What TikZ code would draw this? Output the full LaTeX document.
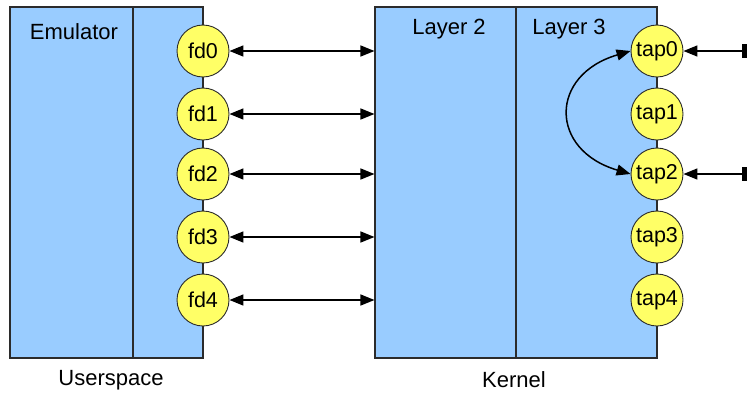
\documentclass[tikz,border=0pt]{standalone}
\usepackage{fontspec}
\setmainfont{Liberation Sans}
\usetikzlibrary{arrows.meta}
\definecolor{boxblue}{HTML}{99CCFF}
\definecolor{circyellow}{HTML}{FFFF66}
\definecolor{edge}{HTML}{2B2B2B}
\tikzset{
  panel/.style={draw=edge, line width=1.1pt, fill=boxblue, inner sep=0pt, minimum height=351pt},
  port/.style={circle, draw=edge, line width=0.9pt, fill=circyellow, minimum size=52pt, inner sep=0pt, font=\fontsize{21.5}{23}\selectfont},
  lbl/.style={font=\fontsize{22}{24}\selectfont, inner sep=0pt},
  link/.style={line width=1.5pt, {Triangle[length=14pt,width=11pt]}-{Triangle[length=14pt,width=11pt]}},
  ext/.style={line width=1.5pt, {Rectangle[length=5pt,width=14pt]}-{Triangle[length=14pt,width=11pt]}},
}
\begin{document}
\begin{tikzpicture}[x=1pt,y=-1pt]
\useasboundingbox (0,0) rectangle (747,394);
% panels
\node[panel, minimum width=123pt] (emu) at (71.5,182.5) {};
\node[panel, minimum width=70pt] (fdcol) at (168,182.5) {};
\node[panel, minimum width=141pt] (l2) at (445.5,182.5) {};
\node[panel, minimum width=141pt] (l3) at (586.5,182.5) {};
% labels
\node[lbl] (temu) at (74,32) {Emulator};
\node[lbl] (tl2) at (449,29) {Layer 2};
\node[lbl] (tl3) at (569,29) {Layer 3};
\node[lbl] (tus) at (111,380) {Userspace};
\node[lbl] (tk) at (514,380) {Kernel};
% ports
\foreach \i/\y in {0/51,1/114,2/174,3/237,4/300}{
  \node[port] (fd\i) at (203,\y) {fd\i};
  \node[port] (tap\i) at (657,\y) {tap\i};
  \draw[link] (fd\i.east) -- (fd\i.east -| l2.west);
}
% external links
\coordinate (e0) at (747,51);
\coordinate (e2) at (747,174);
\draw[ext] (e0) -- (tap0.east);
\draw[ext] (e2) -- (tap2.east);
% loop between tap0 and tap2
\draw[link] (tap2.west) .. controls (549,150) and (549,75) .. (tap0.west);
\end{tikzpicture}
\end{document}
